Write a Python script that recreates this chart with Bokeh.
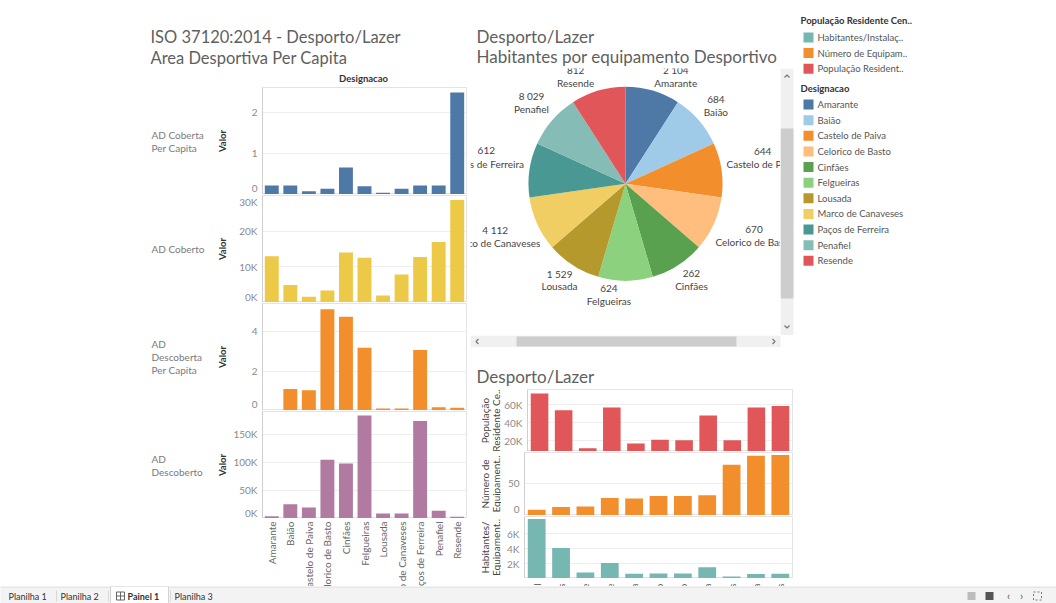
import math
import numpy as np
from bokeh.plotting import figure
from bokeh.layouts import row, column
from bokeh.models import Range1d, FactorRange, FixedTicker, Spacer
from bokeh.core.properties import value
from bokeh.embed import file_html
from bokeh.resources import INLINE

FONT = "Lato"

# ---------------- data ----------------
municipios = ["Amarante", "Baião", "Castelo de Paiva", "Celorico de Basto", "Cinfães",
              "Felgueiras", "Lousada", "Marco de Canaveses", "Paços de Ferreira",
              "Penafiel", "Resende"]
cores_municipios = ["#4e79a7", "#a0cbe8", "#f28e2b", "#ffbe7d", "#59a14f", "#8cd17d",
                    "#b6992d", "#f1ce63", "#499894", "#86bcb6", "#e15759"]

ad_coberta_per_capita = [0.22, 0.22, 0.08, 0.14, 0.66, 0.20, 0.04, 0.14, 0.22, 0.22, 2.49]
ad_coberto = [13000, 4900, 1600, 3400, 14100, 12600, 2000, 7900, 12800, 17000, 28800]
ad_descoberta_per_capita = [0.03, 1.10, 1.03, 5.16, 4.77, 3.20, 0.10, 0.10, 3.08, 0.17, 0.14]
ad_descoberto = [4000, 25500, 19600, 105000, 98000, 184000, 9000, 9000, 174000, 14000, 3000]

rotulos_linhas_esq = [["AD Coberta", "Per Capita"], ["AD Coberto"],
                      ["AD", "Descoberta", "Per Capita"], ["AD", "Descoberto"]]
ticks_esq = [[0, 1, 2], [0, 10000, 20000, 30000], [0, 2, 4], [0, 50000, 100000, 150000]]
tick_labels_esq = [["0", "1", "2"], ["0K", "10K", "20K", "30K"], ["0", "2", "4"],
                   ["0K", "50K", "100K", "150K"]]
y_max_esq = [2.61, 30100, 5.45, 191000]

# pie: equal slices (one per municipio), labels = habitantes por equipamento
contagem_pie = [1, 1, 1, 1, 1, 1, 1, 1, 1, 1, 1]
hab_por_equipamento = [2104, 684, 644, 670, 262, 624, 1529, 4112, 612, 8029, 812]

# bottom right ranking
ordem_ranking = ["Penafiel", "Marco de Canaveses", "Resende", "Amarante", "Castelo de Paiva",
                 "Celorico de Basto", "Baião", "Lousada", "Cinfães", "Paços de Ferreira",
                 "Felgueiras"]
populacao = [72500, 54000, 11500, 57000, 17000, 21000, 20500, 48000, 20500, 57000, 58500]
num_equipamentos = [9, 13, 14, 27, 26, 30, 30, 31, 78, 92, 93]
habitantes_equip = [8029, 4112, 812, 2104, 644, 670, 684, 1529, 262, 612, 624]

rotulos_linhas_dir = [["População", "Residente Ce.."], ["Número de", "Equipament.."],
                      ["Habitantes/", "Equipament.."]]
ticks_dir = [[20000, 40000, 60000], [0, 50], [2000, 4000, 6000]]
tick_labels_dir = [["20K", "40K", "60K"], ["0", "50"], ["2K", "4K", "6K"]]
y_range_dir = [(8000, 77000), (0, 97), (0, 8350)]
cores_medidas = ["#e15759", "#f28e2b", "#76b7b2"]

legenda_medidas = ["Habitantes/Instalaç..", "Número de Equipam..", "População Resident.."]
cores_legenda_medidas = ["#76b7b2", "#f28e2b", "#e15759"]

abas = ["Planilha 1", "Planilha 2", "Painel 1", "Planilha 3"]

TITLE_COLOR = "#5f5f5f"


# ---------------- helpers ----------------
def fig(w, h, **kw):
    p = figure(width=w, height=h, toolbar_location=None, output_backend="svg",
               min_border=0, **kw)
    p.outline_line_color = None
    p.border_fill_color = "white"
    p.background_fill_color = "white"
    return p


def canvas(w, h, bg="white"):
    p = fig(w, h, x_range=Range1d(0, w), y_range=Range1d(h, 0),
            x_axis_type=None, y_axis_type=None)
    p.background_fill_color = bg
    p.border_fill_color = bg
    return p


def txt(p, x, y, s, size="10px", color="#555555", align="left", baseline="middle",
        style="normal", angle=0.0):
    p.text(x=[x], y=[y], text=[s], text_font=value(FONT), text_font_size=size,
           text_color=color, text_align=align, text_baseline=baseline,
           text_font_style=style, angle=angle)


def sep(w):
    p = fig(w, 1, x_range=Range1d(0, 1), y_range=Range1d(0, 1),
            x_axis_type=None, y_axis_type=None)
    p.background_fill_color = "#d9d9d9"
    p.border_fill_color = "#d9d9d9"
    return p


def bar_chart(w, h, cats, vals, color, y0, y1, ticks, labels, bl, br, bw):
    p = fig(w, h, x_range=FactorRange(*cats), y_range=Range1d(y0, y1),
            x_axis_location=None, min_border_left=bl, min_border_right=br)
    p.vbar(x=cats, top=vals, bottom=y0, width=bw, fill_color=color, line_color=None)
    unit = (y1 - y0) / h
    shift = 6 * unit
    pos, grid = [], []
    for t in ticks:
        if t - y0 < shift:
            q = y0 + shift
        elif y1 - t < shift:
            q = y1 - shift
        else:
            q = t
            grid.append(t)
        pos.append(round(q, 6))
    ax = p.yaxis[0]
    ax.ticker = FixedTicker(ticks=pos)
    ax.major_label_overrides = {pv: lab for pv, lab in zip(pos, labels)}
    ax.major_tick_out = 0
    ax.major_tick_in = 0
    ax.minor_tick_out = 0
    ax.minor_tick_in = 0
    ax.axis_line_color = "#cfcfcf"
    ax.major_label_text_font = FONT
    ax.major_label_text_font_size = "10px"
    ax.major_label_text_color = "#8a8a8a"
    ax.major_label_standoff = 5
    p.ygrid.ticker = FixedTicker(ticks=grid)
    p.ygrid.grid_line_color = "#eeeeee"
    p.xgrid.grid_line_color = None
    p.outline_line_color = "#e3e3e3"
    return p


# ---------------- left panel (x 0-470) ----------------
hdr_l = canvas(470, 86)
txt(hdr_l, 150, 36.5, "ISO 37120:2014 - Desporto/Lazer", size="16.5px", color=TITLE_COLOR,
    baseline="alphabetic")
txt(hdr_l, 150, 57, "Area Desportiva Per Capita", size="16.5px", color=TITLE_COLOR,
    baseline="alphabetic")
txt(hdr_l, 363, 78, "Designacao", size="9.5px", color="#333333", align="center", style="bold")

left_items = [hdr_l, row(Spacer(width=145, height=1), sep(321), Spacer(width=4, height=1))]
series_esq = [ad_coberta_per_capita, ad_coberto, ad_descoberta_per_capita, ad_descoberto]
cores_esq = ["#4e79a7", "#edc948", "#f28e2b", "#b07aa1"]
for i in range(4):
    lab = canvas(85, 107)
    lines = rotulos_linhas_esq[i]
    n = len(lines)
    for k, s in enumerate(lines):
        txt(lab, 6, 53.5 + (k - (n - 1) / 2) * 13, s, size="10px", color="#7a7a7a")
    txt(lab, 77, 53.5, "Valor", size="9.5px", color="#333333", align="center",
        style="bold", angle=math.pi / 2)
    ch = bar_chart(240, 107, municipios, series_esq[i], cores_esq[i], 0, y_max_esq[i],
                   ticks_esq[i], tick_labels_esq[i], 32, 4, 0.75)
    left_items.append(row(Spacer(width=145, height=107), lab, ch))
    left_items.append(row(Spacer(width=145, height=1), sep(321), Spacer(width=4, height=1)))

xl = fig(204, 67, x_range=FactorRange(*municipios), y_range=Range1d(67, 0),
         x_axis_type=None, y_axis_type=None)
xl.text(x=municipios, y=2, text=municipios, text_font=value(FONT), text_font_size="10px",
        text_color="#666666", text_align="right", text_baseline="middle", angle=math.pi / 2)
left_items.append(row(Spacer(width=262, height=67), xl, Spacer(width=4, height=67)))
left = column(*left_items)

# ---------------- middle panel (x 470-795) ----------------
hdr_m = canvas(325, 68)
txt(hdr_m, 6, 35.5, "Desporto/Lazer", size="17px", color=TITLE_COLOR, baseline="alphabetic")
txt(hdr_m, 6, 56, "Habitantes por equipamento Desportivo", size="17px", color=TITLE_COLOR,
    baseline="alphabetic")

pie = fig(310, 267, x_range=Range1d(0, 310), y_range=Range1d(0, 267),
          x_axis_type=None, y_axis_type=None)
cx, cy, rad = 155, 151.7, 97
tot = sum(contagem_pie)
cum = np.concatenate([[0], np.cumsum(contagem_pie)])
start = [math.pi / 2 - 2 * math.pi * cum[i] / tot for i in range(len(municipios))]
end = [math.pi / 2 - 2 * math.pi * cum[i + 1] / tot for i in range(len(municipios))]
pie.wedge(x=cx, y=cy, radius=rad, start_angle=start, end_angle=end, direction="clock",
          fill_color=cores_municipios, line_color=None)
lx, ly_v, ly_n, vtxt = [], [], [], []
for i, name in enumerate(municipios):
    a = 2 * math.pi * (cum[i] + cum[i + 1]) / 2 / tot
    if abs(math.cos(a)) > 0.9:  # labels near top/bottom are pushed sideways
        a += math.copysign(math.radians(8), math.sin(a))
    vs = f"{hab_por_equipamento[i]:,}".replace(",", " ")
    w2 = 0.85 * max(len(name), len(vs)) * 5.0 / 2
    d = rad + 6 + abs(math.sin(a)) * w2 + abs(math.cos(a)) * 13
    x0 = cx + d * math.sin(a)
    y0 = cy + d * math.cos(a)
    c = math.cos(a)
    if c > 0.9:
        y0 -= 3.5
    elif c < 0.35:
        y0 += 6.4
    lx.append(x0)
    ly_v.append(y0 + 6.4)
    ly_n.append(y0 - 6.4)
    vtxt.append(vs)
pie.text(x=lx, y=ly_v, text=vtxt, text_font=value(FONT), text_font_size="10px",
         text_color="#444444", text_align="center", text_baseline="middle")
pie.text(x=lx, y=ly_n, text=municipios, text_font=value(FONT), text_font_size="10px",
         text_color="#444444", text_align="center", text_baseline="middle")

vs_ = canvas(15, 267)
vs_.quad(left=0, right=13, top=0, bottom=267, fill_color="#f0f0f0", line_color=None)
vs_.quad(left=0, right=13, top=60, bottom=230, fill_color="#cdcdcd", line_color=None)
vs_.line(x=[4, 6.5, 9], y=[9, 6.5, 9], line_color="#777777", line_width=1.2)
vs_.line(x=[4, 6.5, 9], y=[257, 259.5, 257], line_color="#777777", line_width=1.2)

hs = canvas(325, 12)
hs.quad(left=0, right=310, top=0, bottom=12, fill_color="#f0f0f0", line_color=None)
hs.quad(left=46, right=266, top=1, bottom=11, fill_color="#cdcdcd", line_color=None)
hs.line(x=[8, 5.5, 8], y=[3.5, 6, 8.5], line_color="#777777", line_width=1.2)
hs.line(x=[302, 304.5, 302], y=[3.5, 6, 8.5], line_color="#777777", line_width=1.2)

hdr_b = canvas(325, 41)
txt(hdr_b, 6, 28.5, "Desporto/Lazer", size="17px", color=TITLE_COLOR, baseline="alphabetic")

mid_items = [hdr_m, row(pie, vs_), hs, hdr_b, row(sep(322), Spacer(width=3, height=1))]
series_dir = [populacao, num_equipamentos, habitantes_equip]
alturas_dir = [62, 63, 62]
for i in range(3):
    h = alturas_dir[i]
    lab = canvas(31, h)
    l1, l2 = rotulos_linhas_dir[i]
    txt(lab, 14, h / 2, l1, size="10px", color="#444444", align="center", angle=math.pi / 2)
    txt(lab, 25, h / 2, l2, size="10px", color="#444444", align="center", angle=math.pi / 2)
    y0, y1 = y_range_dir[i]
    ch = bar_chart(294, h, ordem_ranking, series_dir[i], cores_medidas[i], y0, y1,
                   ticks_dir[i], tick_labels_dir[i], 23, 3, 0.73)
    mid_items.append(row(lab, ch))
    if i < 2:
        mid_items.append(row(sep(322), Spacer(width=3, height=1)))
sl = fig(268, 8, x_range=FactorRange(*ordem_ranking), y_range=Range1d(8, 0),
         x_axis_type=None, y_axis_type=None)
sl.text(x=ordem_ranking, y=1, text=ordem_ranking, text_font=value(FONT), text_font_size="10px",
        text_color="#666666", text_align="right", text_baseline="middle", angle=math.pi / 2)
mid_items.append(row(Spacer(width=54, height=8), sl, Spacer(width=3, height=8)))
middle = column(*mid_items)

# ---------------- legend panel (x 795-1056) ----------------
lg = canvas(261, 586)
txt(lg, 5, 20, "População Residente Cen..", size="9.5px", color="#333333", style="bold")
for k, s in enumerate(legenda_medidas):
    yy = 37 + k * 15.6
    lg.quad(left=8, right=18, top=yy - 5, bottom=yy + 5, fill_color=cores_legenda_medidas[k],
            line_color=None)
    txt(lg, 22, yy, s, size="9.5px", color="#555555")
txt(lg, 5, 88, "Designacao", size="9.5px", color="#333333", style="bold")
for k, s in enumerate(municipios):
    yy = 104 + k * 15.63
    lg.quad(left=8, right=18, top=yy - 5, bottom=yy + 5, fill_color=cores_municipios[k],
            line_color=None)
    txt(lg, 22, yy, s, size="9.5px", color="#555555")

# ---------------- tab bar (y 586-603) ----------------
tb = canvas(1056, 17, bg="#f3f3f3")
tb.segment(x0=0, y0=0.5, x1=1056, y1=0.5, line_color="#dcdcdc")
tb.quad(left=110, right=168, top=0, bottom=17, fill_color="white", line_color="#d4d4d4")
tab_x = [8, 60, 127, 174]
for k, s in enumerate(abas):
    txt(tb, tab_x[k], 9.5, s, size="9px", color="#333333",
        style="bold" if s == "Painel 1" else "normal")
tb.quad(left=116, right=124, top=5.5, bottom=13.5, fill_color=None, line_color="#666666")
tb.segment(x0=[120, 116], y0=[5.5, 9.5], x1=[120, 124], y1=[13.5, 9.5], line_color="#666666")
tb.segment(x0=[56, 108, 170], y0=[4, 4, 4], x1=[56, 108, 170], y1=[15, 15, 15],
           line_color="#d8d8d8")
tb.quad(left=967, right=975, top=5.5, bottom=13.5, fill_color="#bbbbbb", line_color=None)
tb.quad(left=985, right=993, top=5.5, bottom=13.5, fill_color="#555555", line_color=None)
txt(tb, 1008, 9, "‹", size="11px", color="#555555", align="center")
txt(tb, 1021, 9, "›", size="11px", color="#555555", align="center")
tb.quad(left=1033, right=1041, top=5.5, bottom=13.5, fill_color=None, line_color="#777777",
        line_dash="2 2")

layout = column(row(left, middle, lg), tb)

open("out.html", "w").write(file_html(layout, INLINE))
